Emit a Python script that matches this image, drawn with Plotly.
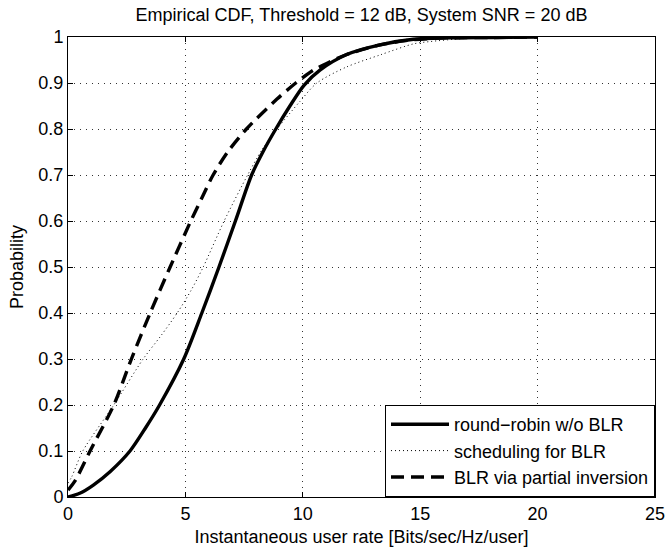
import plotly.graph_objects as go

# Round-robin w/o BLR (solid)
rr_x = [0, 0.5, 1.08, 1.79, 2.64, 3.3, 3.9, 4.93, 5.7, 6.43, 7.13, 7.82, 8.3, 8.85,
        9.45, 10.05, 10.73, 11.87, 13.29, 14.71, 16.13, 18, 20]
rr_y = [0, 0.008, 0.026, 0.055, 0.1, 0.15, 0.2, 0.3, 0.4, 0.5, 0.6, 0.7, 0.75, 0.8,
        0.85, 0.895, 0.928, 0.962, 0.983, 0.995, 0.998, 0.999, 1.0]

# Scheduling for BLR (dotted)
sch_x = [0, 0.16, 0.63, 1.95, 3.2, 3.95, 4.65, 5.25, 5.76, 6.65, 7.65, 8.25, 8.9, 9.88,
         10.6, 11.87, 13.29, 14.71, 15.4, 17, 20]
sch_y = [0.03, 0.044, 0.1, 0.2, 0.3, 0.35, 0.4, 0.45, 0.5, 0.6, 0.7, 0.754, 0.8, 0.86,
         0.9, 0.935, 0.961, 0.985, 0.99, 0.997, 1.0]

# BLR via partial inversion (dashed)
pi_x = [0, 0.3, 0.94, 1.95, 2.7, 3.5, 4.35, 5.23, 5.7, 6.18, 6.8, 7.6, 8.9, 9.7,
        10.45, 11.16, 11.87, 13.29, 14.71, 16.13, 18, 20]
pi_y = [0.015, 0.035, 0.1, 0.2, 0.3, 0.4, 0.5, 0.6, 0.65, 0.7, 0.75, 0.8, 0.865, 0.9,
        0.928, 0.946, 0.962, 0.983, 0.994, 0.998, 0.999, 1.0]

names = ["round\u2212robin w/o BLR", "scheduling for BLR", "BLR via partial inversion"]
x_ticks = [0, 5, 10, 15, 20, 25]
y_ticks = [0, 0.1, 0.2, 0.3, 0.4, 0.5, 0.6, 0.7, 0.8, 0.9, 1]

FONT = "Liberation Sans, Arial, Helvetica, sans-serif"
FS = 18

fig = go.Figure()
fig.add_trace(go.Scatter(x=rr_x, y=rr_y, mode="lines", name=names[0],
                         line=dict(color="black", width=3.4, shape="spline", smoothing=0.8)))
fig.add_trace(go.Scatter(x=sch_x, y=sch_y, mode="lines", name=names[1],
                         line=dict(color="black", width=1, dash="1px,3px", shape="spline", smoothing=0.8)))
fig.add_trace(go.Scatter(x=pi_x, y=pi_y, mode="lines", name=names[2],
                         line=dict(color="black", width=3.4, dash="13px,7px", shape="spline", smoothing=0.8)))

axis_common = dict(
    showline=True, linecolor="black", linewidth=1, mirror="ticks",
    ticks="inside", ticklen=5, tickcolor="black", tickwidth=1,
    showgrid=True, gridcolor="#333333", griddash="1px,5px", gridwidth=1,
    zeroline=False, automargin=False,
    tickfont=dict(family=FONT, size=FS, color="black"),
)

W, H = 666, 552
fig.update_layout(
    width=W, height=H,
    paper_bgcolor="white", plot_bgcolor="white",
    margin=dict(l=68, r=11, t=37, b=55),
    title=dict(text="Empirical CDF, Threshold = 12 dB, System SNR = 20 dB",
               x=361.5 / W, xanchor="center", y=1 - 15 / H, yanchor="middle",
               font=dict(family=FONT, size=FS, color="black")),
    xaxis=dict(range=[0, 25], tickvals=x_ticks,
               title=dict(text="Instantaneous user rate [Bits/sec/Hz/user]", standoff=7,
                          font=dict(family=FONT, size=FS, color="black")),
               **axis_common),
    yaxis=dict(range=[0, 1], tickvals=y_ticks,
               title=dict(text="Probability", standoff=10,
                          font=dict(family=FONT, size=FS, color="black")),
               **axis_common),
    legend=dict(x=1, y=0, xanchor="right", yanchor="bottom",
                bgcolor="white", bordercolor="black", borderwidth=1,
                font=dict(family=FONT, size=FS, color="black"),
                tracegroupgap=0, itemwidth=58),
    showlegend=True,
)

# Remove the default page margin so the figure fills the window exactly.
fig.write_html("out.html", config={"displayModeBar": False},
               post_script="document.body.style.margin='0';")
